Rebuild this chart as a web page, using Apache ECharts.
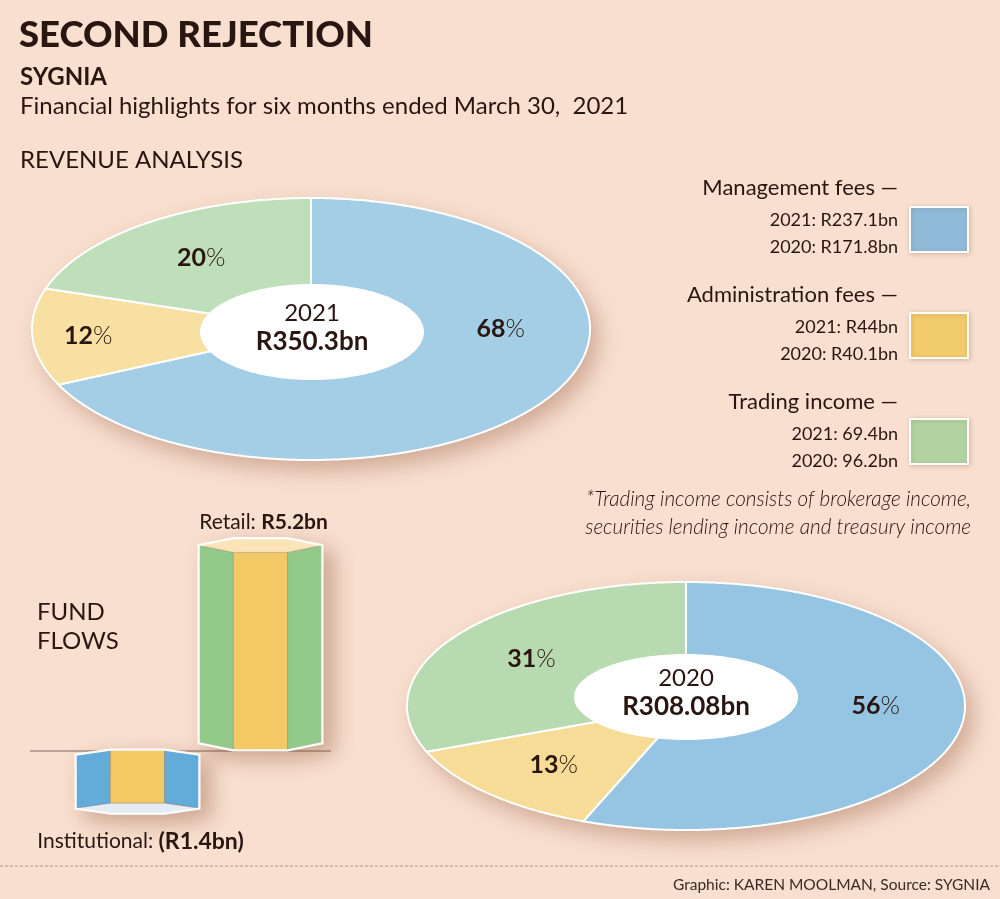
<!DOCTYPE html>
<html><head><meta charset="utf-8">
<script src="https://cdn.jsdelivr.net/npm/echarts@6/dist/echarts.min.js"></script>
<style>html,body{margin:0;padding:0;background:#f8dfcf}#c{width:1000px;height:899px}</style>
</head><body><div id="c"></div><script>
// ---- data ----
const categories = ['Management fees', 'Administration fees', 'Trading income'];
const pct2021 = [68, 12, 20];
const pct2020 = [56, 13, 31];
const year2021 = '2021', year2020 = '2020';
const total2021 = 'R350.3bn';
const total2020 = 'R308.08bn';
const legend2021 = ['R237.1bn', 'R44bn', '69.4bn'];
const legend2020 = ['R171.8bn', 'R40.1bn', '96.2bn'];
const flowCategories = ['Institutional', 'Retail'];
const flowValues = [-1.4, 5.2];
const flowLabels = ['(R1.4bn)', 'R5.2bn'];

// ---- style ----
const INK = '#2a1610';
const FONT = 'Lato, "Open Sans", sans-serif';
const legendColors = ['#8fbbd8', '#f2cb6a', '#b2d3a0'];

function ellipsePts(cx, cy, rx, ry) {
  const p = [];
  for (let k = 0; k < 180; k++) { const t = k / 180 * 2 * Math.PI; p.push([cx + rx * Math.sin(t), cy - ry * Math.cos(t)]); }
  return p;
}

function pieSeries(pcts, year, total, cfg) {
  const sum = pcts.reduce((a, b) => a + b, 0);
  const starts = []; let acc = 0;
  pcts.forEach(v => { starts.push(acc); acc += v; });
  return {
    type: 'custom', coordinateSystem: 'none', silent: true, animation: false,
    data: pcts.map(v => [v]),
    renderItem(params, api) {
      const i = params.dataIndex;
      const v = api.value(0);
      const a0 = starts[i] / sum * 2 * Math.PI, a1 = (starts[i] + v) / sum * 2 * Math.PI;
      const pts = [[cfg.cx, cfg.cy]];
      const n = Math.max(2, Math.ceil((a1 - a0) / 0.01));
      for (let k = 0; k <= n; k++) {
        const t = a0 + (a1 - a0) * k / n;
        pts.push([cfg.cx + cfg.rx * Math.sin(t), cfg.cy - cfg.ry * Math.cos(t)]);
      }
      const children = [];
      if (i === 0) {
        children.push({ type: 'polygon', z2: 0, shape: { points: ellipsePts(cfg.cx, cfg.cy, cfg.rx, cfg.ry) },
          style: { fill: '#fff', shadowBlur: 22, shadowColor: 'rgba(130,70,40,0.35)', shadowOffsetX: 8, shadowOffsetY: 10 } });
      }
      children.push({ type: 'polygon', z2: 1, shape: { points: pts }, style: { fill: cfg.colors[i], stroke: '#fff', lineWidth: 2 } });
      let m = (a0 + a1) / 2;
      let lr = 0.67;
      if (v / sum > 0.5) { m = Math.PI / 2; lr = 0.68; }
      else if (v / sum < 0.15 && Math.abs(Math.sin(m)) > 0.95) lr = 0.8;
      children.push({ type: 'text', z2: 10,
        style: { x: cfg.cx + cfg.rx * lr * Math.sin(m), y: cfg.cy - cfg.ry * lr * Math.cos(m),
          text: '{n|' + v + '}{p|%}', align: 'center', verticalAlign: 'middle',
          rich: { n: { fontFamily: FONT, fontSize: 25, fontWeight: 'bold', fill: INK },
                  p: { fontFamily: FONT, fontSize: 25, fontWeight: 300, fill: INK } } } });
      if (i === pcts.length - 1) {
        children.push({ type: 'polygon', z2: 5, shape: { points: ellipsePts(cfg.icx, cfg.icy, cfg.irx, cfg.iry) }, style: { fill: '#fff' } });
        children.push({ type: 'text', z2: 10, style: { x: cfg.icx, y: cfg.icy - 19, text: year, align: 'center', verticalAlign: 'middle',
          fontFamily: FONT, fontSize: 24, fill: INK } });
        children.push({ type: 'text', z2: 10, style: { x: cfg.icx, y: cfg.icy + 10, text: total, align: 'center', verticalAlign: 'middle',
          fontFamily: FONT, fontSize: 26, fontWeight: 'bold', fill: INK } });
      }
      return { type: 'group', children };
    }
  };
}

const flowSeries = {
  type: 'custom', xAxisIndex: 0, yAxisIndex: 0, silent: true, animation: false,
  data: flowValues.map((v, i) => [i, v]),
  renderItem(params, api) {
    const i = params.dataIndex;
    const v = api.value(1);
    const base = api.coord([i, 0]), top = api.coord([i, v]);
    const w = api.size([1, 0])[0];
    const x0 = base[0] - w / 2, x1 = base[0] + w / 2;
    const s = w * 0.28, xa = x0 + s, xb = x1 - s;
    const up = v > 0;
    const h = up ? 7 : 5;
    const sg = up ? -1 : 1;
    const yB = base[1], yT = top[1];
    const sideCol = up ? '#93c98a' : '#63abd8';
    const midCol = '#f2c964';
    const capCol = up ? '#fbe5b8' : '#e4ecf5';
    const edge = 'rgba(120,100,80,0.5)';
    const outline = [[x0, yB + sg * h], [xa, yB], [xb, yB], [x1, yB + sg * h], [x1, yT + sg * h], [xb, yT + 2 * sg * h], [xa, yT + 2 * sg * h], [x0, yT + sg * h]];
    const children = [
      { type: 'polygon', shape: { points: outline }, style: { fill: '#fff', stroke: '#fff', lineWidth: 3, shadowBlur: 20, shadowColor: 'rgba(130,70,40,0.35)', shadowOffsetX: 10, shadowOffsetY: 8 } },
      { type: 'polygon', shape: { points: [[x0, yB + sg * h], [xa, yB], [xa, yT], [x0, yT + sg * h]] }, style: { fill: sideCol, stroke: edge, lineWidth: 0.6 } },
      { type: 'polygon', shape: { points: [[xa, yB], [xb, yB], [xb, yT], [xa, yT]] }, style: { fill: midCol, stroke: edge, lineWidth: 0.6 } },
      { type: 'polygon', shape: { points: [[xb, yB], [x1, yB + sg * h], [x1, yT + sg * h], [xb, yT]] }, style: { fill: sideCol, stroke: edge, lineWidth: 0.6 } },
      { type: 'polygon', shape: { points: [[x0, yT + sg * h], [xa, yT], [xb, yT], [x1, yT + sg * h], [xb, yT + 2 * sg * h], [xa, yT + 2 * sg * h]] }, style: { fill: capCol, stroke: edge, lineWidth: 0.6 } },
      { type: 'polygon', shape: { points: outline }, style: { fill: 'none', stroke: '#fff', lineWidth: 1.5 } },
      { type: 'text', style: { x: base[0] + 3, y: up ? yT - 2 * h - 16 : yT + 2 * h + 28, align: 'center', verticalAlign: 'middle',
          text: '{a|' + flowCategories[i] + ': }{b|' + flowLabels[i] + '}',
          rich: { a: { fontFamily: FONT, fontSize: 21, fill: INK }, b: { fontFamily: FONT, fontSize: up ? 21 : 23, fontWeight: 'bold', fill: INK } } } }
    ];
    return { type: 'group', children };
  }
};

const graphics = [];
function txt(x, y, text, size, style) {
  graphics.push({ type: 'text', x, y, z: 100, silent: true,
    style: Object.assign({ text, fontFamily: FONT, fontSize: size, fill: INK, align: 'left', verticalAlign: 'middle' }, style || {}) });
}
txt(19, 35, 'SECOND REJECTION', 36.5, { fontWeight: 900 });
txt(20, 77, 'SYGNIA', 24, { fontWeight: 'bold' });
txt(20, 106, 'Financial highlights for six months ended March 30,  2021', 24);
txt(20, 160, 'REVENUE ANALYSIS', 24);
txt(37, 612, 'FUND', 24);
txt(37, 641, 'FLOWS', 24);
categories.forEach((c, i) => {
  const dy = i * 107;
  txt(898, 188 + dy, c + ' —', 22, { align: 'right' });
  txt(898, 220 + dy, '2021: ' + legend2021[i], 18, { align: 'right' });
  txt(898, 247 + dy, '2020: ' + legend2020[i], 18, { align: 'right' });
  graphics.push({ type: 'rect', z: 100, silent: true, shape: { x: 910, y: 207 + i * 106, width: 58, height: 45 },
    style: { fill: legendColors[i], stroke: '#fff', lineWidth: 2, shadowBlur: 4, shadowColor: 'rgba(130,70,40,0.25)', shadowOffsetX: 1, shadowOffsetY: 1 } });
});
txt(971, 499, '*Trading income consists of brokerage income,', 20.7, { align: 'right', fontStyle: 'italic', fontWeight: 300 });
txt(971, 527, 'securities lending income and treasury income', 20.7, { align: 'right', fontStyle: 'italic', fontWeight: 300 });
graphics.push({ type: 'line', z: 1, silent: true, shape: { x1: 30, y1: 751, x2: 331, y2: 751 }, style: { stroke: '#7d6a60', lineWidth: 1 } });
graphics.push({ type: 'line', z: 1, silent: true, shape: { x1: 0, y1: 866, x2: 1000, y2: 866 }, style: { stroke: '#a8968c', lineWidth: 1, lineDash: [3, 2] } });
txt(990, 885, 'Graphic: KAREN MOOLMAN, Source: SYGNIA', 15.5, { fill: '#3a2a24', align: 'right' });

const chart = echarts.init(document.getElementById('c'), null, { renderer: 'canvas' });
chart.setOption({
  backgroundColor: '#f8dfcf',
  animation: false,
  grid: { left: 76, width: 246, top: 522, height: 304 },
  xAxis: { type: 'category', data: flowCategories, show: false },
  yAxis: { type: 'value', min: -2, max: 6, show: false },
  graphic: graphics,
  series: [
    pieSeries(pct2021, year2021, total2021, { cx: 311, cy: 329, rx: 279, ry: 131, icx: 312, icy: 332, irx: 112, iry: 48, colors: ['#a4cde6', '#f7e0a2', '#bfdfbb'] }),
    pieSeries(pct2020, year2020, total2020, { cx: 686, cy: 706, rx: 279, ry: 124, icx: 686, icy: 697, irx: 112, iry: 43, colors: ['#96c4e3', '#f7dc98', '#b8dab0'] }),
    flowSeries
  ]
});
</script></body></html>
